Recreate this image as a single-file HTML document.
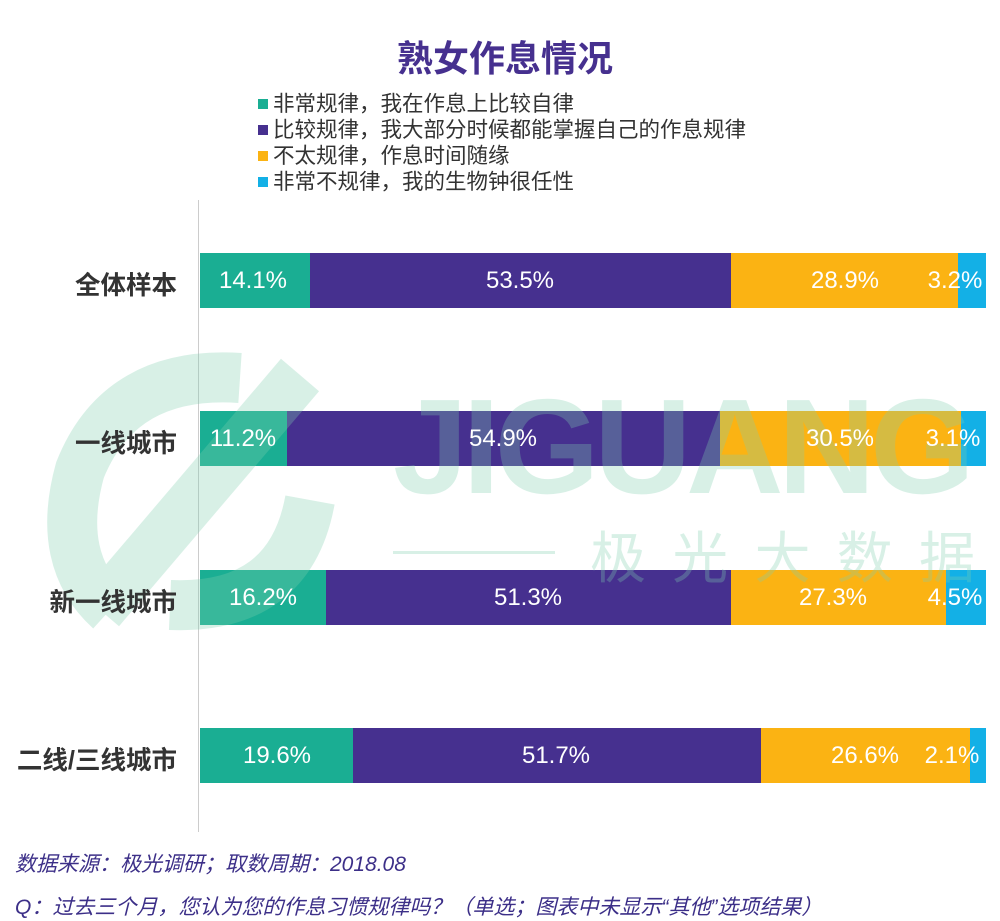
<!DOCTYPE html>
<html><head><meta charset="utf-8"><style>
body{margin:0;width:1000px;height:919px;background:#fff;position:relative;overflow:hidden;font-family:"Liberation Sans","Noto Sans CJK SC",sans-serif}
.a{position:absolute}
.t{position:absolute;color:#fff;font-size:24px;transform:translateX(-50%);white-space:nowrap}
.lg{position:absolute;left:258px;font-size:21.5px;color:#333;line-height:26px}
.lg i{display:inline-block;width:10px;height:10px;margin-right:5px;vertical-align:2px}
.cat{position:absolute;right:823px;font-size:25.5px;font-weight:bold;color:#333;white-space:nowrap}
.ft{position:absolute;left:15px;font-size:21px;font-style:italic;color:#3c2f88;white-space:nowrap}
</style></head><body>
<div class="a" style="left:0;width:1000px;top:30px;text-align:center;font-size:36px;font-weight:bold;color:#46308f;padding-left:10px;box-sizing:border-box">熟女作息情况</div>
<div class="lg" style="top:91px"><i style="background:#1aae93"></i>非常规律，我在作息上比较自律<br><i style="background:#46308f"></i>比较规律，我大部分时候都能掌握自己的作息规律<br><i style="background:#fbb313"></i>不太规律，作息时间随缘<br><i style="background:#13b0e6"></i>非常不规律，我的生物钟很任性</div>
<div class="a" style="left:198px;top:200px;width:1px;height:632px;background:#ccc"></div>
<div class="a" style="top:253px;height:55px;left:200px;width:786px;display:flex">
<div style="width:110px;background:#1aae93"></div><div style="width:421px;background:#46308f"></div><div style="width:227px;background:#fbb313"></div><div style="flex:1;background:#13b0e6"></div></div>
<div class="a" style="top:411px;height:55px;left:200px;width:786px;display:flex">
<div style="width:87px;background:#1aae93"></div><div style="width:433px;background:#46308f"></div><div style="width:241px;background:#fbb313"></div><div style="flex:1;background:#13b0e6"></div></div>
<div class="a" style="top:570px;height:55px;left:200px;width:786px;display:flex">
<div style="width:126px;background:#1aae93"></div><div style="width:405px;background:#46308f"></div><div style="width:215px;background:#fbb313"></div><div style="flex:1;background:#13b0e6"></div></div>
<div class="a" style="top:728px;height:55px;left:200px;width:786px;display:flex">
<div style="width:153px;background:#1aae93"></div><div style="width:408px;background:#46308f"></div><div style="width:209px;background:#fbb313"></div><div style="flex:1;background:#13b0e6"></div></div>
<svg class="a" style="left:0;top:0;opacity:0.3" width="1000" height="919">
<g fill="none" stroke="#7fcfb0" stroke-width="50">
<path d="M300 375 L100 610"/><path d="M240 378 Q120 370 80 470 Q55 560 110 610"/><path d="M170 605 Q290 610 310 500"/>
</g>
<text x="393" y="493" font-family="Liberation Sans" font-weight="bold" font-size="135" fill="#7fcfb0" textLength="582">JIGUANG</text>
<text x="590" y="578" font-family="Noto Sans CJK SC" font-size="56" fill="#7fcfb0" textLength="385">极光大数据</text>
<rect x="393" y="551" width="162" height="3" fill="#7fcfb0"/>
</svg>
<div class="t" style="left:253px;top:267px">14.1%</div><div class="t" style="left:520px;top:267px">53.5%</div><div class="t" style="left:845px;top:267px">28.9%</div><div class="t" style="left:955px;top:267px">3.2%</div>
<div class="t" style="left:243px;top:425px">11.2%</div><div class="t" style="left:503px;top:425px">54.9%</div><div class="t" style="left:840px;top:425px">30.5%</div><div class="t" style="left:953px;top:425px">3.1%</div>
<div class="t" style="left:263px;top:584px">16.2%</div><div class="t" style="left:528px;top:584px">51.3%</div><div class="t" style="left:833px;top:584px">27.3%</div><div class="t" style="left:955px;top:584px">4.5%</div>
<div class="t" style="left:277px;top:742px">19.6%</div><div class="t" style="left:556px;top:742px">51.7%</div><div class="t" style="left:865px;top:742px">26.6%</div><div class="t" style="left:952px;top:742px">2.1%</div>
<div class="cat" style="top:265px">全体样本</div>
<div class="cat" style="top:423px">一线城市</div>
<div class="cat" style="top:582px">新一线城市</div>
<div class="cat" style="top:740px">二线/三线城市</div>
<div class="ft" style="top:848px">数据来源：极光调研；取数周期：2018.08</div>
<div class="ft" style="top:891px">Q：过去三个月，您认为您的作息习惯规律吗？（单选；图表中未显示“其他”选项结果）</div>
</body></html>
